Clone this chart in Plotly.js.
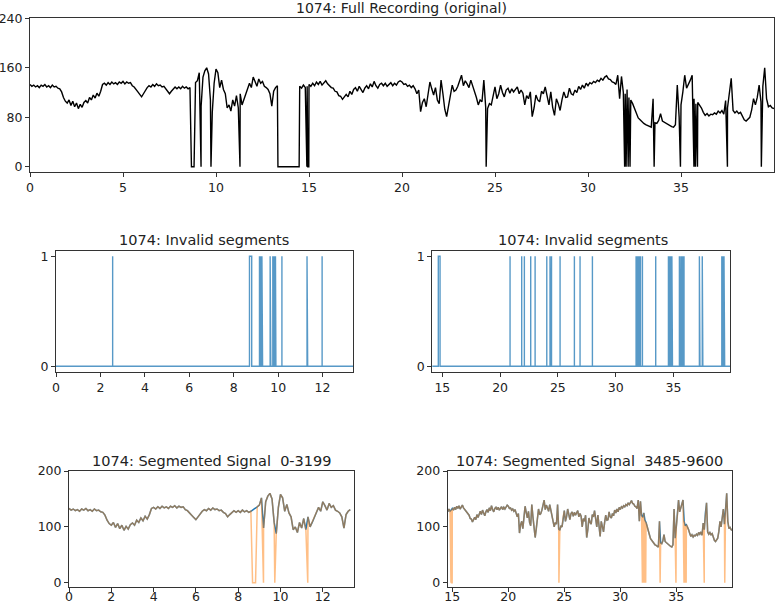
<!DOCTYPE html>
<html>
<head>
<meta charset="utf-8">
<script src="https://cdn.plot.ly/plotly-3.0.1.min.js"></script>
<style>html,body{margin:0;padding:0;background:#fff;}#chart{width:776px;height:604px;}</style>
</head>
<body>
<div id="chart"></div>
<script>
// ---------- DATA ----------
// Fetal heart rate (bpm), one reading every 0.1 minute, starting at minute 0
const fhrStartMin = 0;
const fhrStepMin = 0.1;
const fhr = [
  133,130,132,129,131,128,132,130,133,129,
  131,128,132,129,130,127,126,121,112,106,
  103,108,99,106,97,103,94,101,96,104,
  107,103,112,108,116,111,119,114,122,133,
  135,132,136,133,137,134,136,133,137,135,
  138,134,137,135,136,131,129,124,121,117,
  113,118,124,128,131,129,133,130,134,131,
  132,129,130,126,124,118,122,126,129,126,
  129,126,130,127,129,126,128,0,0,136,
  139,152,98,145,155,160,150,108,88,135,
  158,152,128,140,125,118,95,100,90,108,
  98,115,95,118,100,108,118,125,135,128,
  145,138,130,142,135,138,130,128,125,118,
  98,122,128,131,0,0,0,0,0,0,
  0,0,0,0,0,130,127,132,128,130,
  133,130,135,131,137,133,138,132,136,139,
  134,131,128,127,122,121,115,114,109,113,
  117,113,122,117,125,128,122,130,125,120,
  127,131,126,134,129,138,131,127,133,135,
  131,135,130,134,136,131,135,132,137,139,
  137,133,134,130,132,128,131,126,118,124,
  89,104,110,97,120,137,126,116,128,108,
  102,140,118,93,81,97,115,132,122,124,
  130,138,148,131,139,134,128,140,131,121,
  112,100,108,105,140,96,94,102,100,118,
  129,110,118,132,120,113,124,127,119,126,
  121,125,129,118,124,119,100,115,110,121,
  81,95,116,108,105,122,118,129,112,100,
  121,96,83,110,102,91,108,121,112,113,
  127,118,116,124,120,130,125,132,127,135,
  131,136,134,138,136,140,138,143,140,145,
  147,142,141,137,136,133,148,110,146,120,
  118,125,112,108,102,95,86,79,76,72,
  70,68,67,66,64,110,71,70,75,86,
  74,72,70,68,67,65,64,68,132,80,
  100,121,148,127,133,140,148,110,102,104,
  100,95,88,83,86,82,85,84,87,85,
  90,87,91,85,107,95,125,143,91,87,
  90,86,88,81,76,74,77,80,92,110,
  100,112,132,105,130,160,110,97,99,95,
  94
];
// Signal drop-outs (recorded value 0), start / end in minutes
const dropStart = [8.68, 9.19, 9.73, 11.29, 13.33, 14.88, 14.93, 14.99, 24.52, 31.97, 32.05, 32.16, 32.26, 33.55, 34.97, 35.69, 35.77, 35.88, 37.49, 39.32];
const dropEnd   = [8.82, 9.196, 9.736, 11.296, 14.47, 14.886, 14.936, 14.996, 24.526, 31.976, 32.056, 32.166, 32.266, 33.556, 34.976, 35.696, 35.776, 35.886, 37.496, 39.326];
// Invalid-segment flags (minutes)
const invalidLeftStart = [2.55, 8.71, 9.16, 9.18, 9.21, 9.24, 9.27, 9.30, 9.64, 9.67, 9.76, 9.79, 9.82, 9.85, 9.88, 9.90, 10.17, 11.30, 11.33, 11.98];
const invalidLeftEnd   = [2.55, 8.81, 9.16, 9.18, 9.21, 9.24, 9.27, 9.30, 9.64, 9.67, 9.76, 9.79, 9.82, 9.85, 9.88, 9.90, 10.17, 11.30, 11.33, 11.98];
const invalidRightStart = [14.65, 20.86, 21.87, 22.10, 22.65, 23.03, 24.04, 24.32, 24.38, 24.45, 25.19, 26.43, 26.92, 27.99,
  31.77, 31.80, 31.84, 31.90, 31.95, 32.00, 32.05, 32.10, 32.15, 32.32, 33.47,
  34.57, 34.62, 34.68, 34.75, 34.80, 34.87, 34.92, 35.52, 35.58, 35.65, 35.72, 35.80, 35.86, 35.92,
  37.25, 37.30, 37.50, 37.55, 39.19, 39.25, 39.30, 39.38, 39.44];
const invalidRightEnd = [14.80, 20.86, 21.87, 22.10, 22.65, 23.03, 24.04, 24.32, 24.38, 24.45, 25.19, 26.43, 26.92, 27.99,
  31.77, 31.80, 31.84, 31.90, 31.95, 32.00, 32.05, 32.10, 32.15, 32.32, 33.47,
  34.57, 34.62, 34.68, 34.75, 34.80, 34.87, 34.92, 35.52, 35.58, 35.65, 35.72, 35.80, 35.86, 35.92,
  37.25, 37.30, 37.50, 37.55, 39.19, 39.25, 39.30, 39.38, 39.44];
const segLeftEnd = 13.33;    // sample 3199
const segRightStart = 14.47; // sample 3485
const titles = {
  full: '1074: Full Recording (original)',
  invalid: '1074: Invalid segments',
  segLeft: '1074: Segmented Signal\u00a0 0-3199',
  segRight: '1074: Segmented Signal\u00a0 3485-9600'
};

// ---------- BUILD SERIES ----------
const baseT = fhr.map((v, i) => +(fhrStartMin + i * fhrStepMin).toFixed(3));
function inDrop(t) {
  for (let k = 0; k < dropStart.length; k++) if (t >= dropStart[k] && t <= dropEnd[k]) return true;
  return false;
}
let raw = [];
baseT.forEach((t, i) => { if (!inDrop(t)) raw.push([t, fhr[i]]); });
dropStart.forEach((s, k) => { raw.push([s, 0]); raw.push([dropEnd[k], 0]); });
raw.sort((a, b) => a[0] - b[0]);
const rawT = raw.map(p => p[0]), rawV = raw.map(p => p[1]);

function pulses(st, en) {
  const x = [], y = [];
  x.push(st[0] - 20); y.push(0);
  st.forEach((s, k) => { x.push(s, s, en[k], en[k]); y.push(0, 1, 1, 0); });
  x.push(60); y.push(0);
  return {x, y};
}
const pl = pulses(invalidLeftStart, invalidLeftEnd);
const pr = pulses(invalidRightStart, invalidRightEnd);

const cleanV = fhr.map(v => v === 0 ? null : v);
function pick(tArr, vArr, f) {
  const x = [], y = [];
  tArr.forEach((t, i) => { if (f(t)) { x.push(t); y.push(vArr[i]); } });
  return {x, y};
}
const bL = pick(baseT, cleanV, t => t < segLeftEnd);
const bR = pick(baseT, cleanV, t => t > segRightStart);
const oL = pick(rawT, rawV, t => t < segLeftEnd);
const oR = pick(rawT, rawV, t => t > segRightStart);

const BLUE = '#1f77b4', ORANGE = 'rgba(255,127,14,0.5)';
const traces = [
  {x: rawT, y: rawV, xaxis: 'x', yaxis: 'y', mode: 'lines', line: {color: '#000', width: 1.4}},
  {x: pl.x, y: pl.y, xaxis: 'x2', yaxis: 'y2', mode: 'lines', line: {color: BLUE, width: 1.4}, opacity: 0.75},
  {x: pr.x, y: pr.y, xaxis: 'x3', yaxis: 'y3', mode: 'lines', line: {color: BLUE, width: 1.4}, opacity: 0.75},
  {x: bL.x, y: bL.y, xaxis: 'x4', yaxis: 'y4', mode: 'lines', connectgaps: true, line: {color: BLUE, width: 1.5}},
  {x: oL.x, y: oL.y, xaxis: 'x4', yaxis: 'y4', mode: 'lines', line: {color: ORANGE, width: 1.5}},
  {x: bR.x, y: bR.y, xaxis: 'x5', yaxis: 'y5', mode: 'lines', connectgaps: true, line: {color: BLUE, width: 1.5}},
  {x: oR.x, y: oR.y, xaxis: 'x5', yaxis: 'y5', mode: 'lines', line: {color: ORANGE, width: 1.5}}
];

// ---------- LAYOUT ----------
const W = 776, H = 604;
const fx = p => p / W, fy = p => 1 - p / H;
function ax(extra) {
  return Object.assign({
    showline: true, mirror: true, linecolor: '#333', linewidth: 1,
    ticks: 'outside', ticklen: 4, tickwidth: 1, tickcolor: '#333',
    showgrid: false, zeroline: false, fixedrange: true,
    tickfont: {family: 'DejaVu Sans', size: 12.5, color: '#222'}
  }, extra);
}
const layout = {
  width: W, height: H, showlegend: false,
  paper_bgcolor: '#fff', plot_bgcolor: '#fff',
  margin: {l: 0, r: 0, t: 0, b: 0},
  font: {family: 'DejaVu Sans', color: '#222'},
  xaxis:  ax({domain: [fx(30), fx(774)], range: [0, 40], tickvals: [0,5,10,15,20,25,30,35], anchor: 'y'}),
  yaxis:  ax({domain: [fy(171.7), fy(18.3)], range: [-8, 240], tickvals: [0,80,160,240], anchor: 'x'}),
  xaxis2: ax({domain: [fx(56), fx(353)], range: [0, 13.37], tickvals: [0,2,4,6,8,10,12], anchor: 'y2'}),
  yaxis2: ax({domain: [fy(371.7), fy(250.7)], range: [-0.05, 1.05], tickvals: [0,1], anchor: 'x2'}),
  xaxis3: ax({domain: [fx(432.3), fx(730)], range: [14.13, 39.9], tickvals: [15,20,25,30,35], anchor: 'y3'}),
  yaxis3: ax({domain: [fy(371.7), fy(250.7)], range: [-0.05, 1.05], tickvals: [0,1], anchor: 'x3'}),
  xaxis4: ax({domain: [fx(69), fx(354.3)], range: [0, 13.49], tickvals: [0,2,4,6,8,10,12], anchor: 'y4', ticklabelstandoff: -6}),
  yaxis4: ax({domain: [fy(587.3), fy(471)], range: [-8, 200], tickvals: [0,100,200], anchor: 'x4'}),
  xaxis5: ax({domain: [fx(447.7), fx(732.3)], range: [14.59, 40], tickvals: [15,20,25,30,35], anchor: 'y5', ticklabelstandoff: -6}),
  yaxis5: ax({domain: [fy(587.3), fy(471)], range: [-8, 200], tickvals: [0,100,200], anchor: 'x5'}),
  annotations: [
    {text: titles.full, x: fx(401.5), y: fy(8), xref: 'paper', yref: 'paper', xanchor: 'center', yanchor: 'middle', showarrow: false, font: {family: 'DejaVu Sans', size: 14, color: '#222'}},
    {text: titles.invalid, x: fx(204), y: fy(240), xref: 'paper', yref: 'paper', xanchor: 'center', yanchor: 'middle', showarrow: false, font: {family: 'DejaVu Sans', size: 14.5, color: '#222'}},
    {text: titles.invalid, x: fx(582.5), y: fy(240), xref: 'paper', yref: 'paper', xanchor: 'center', yanchor: 'middle', showarrow: false, font: {family: 'DejaVu Sans', size: 14.5, color: '#222'}},
    {text: titles.segLeft, x: fx(211.8), y: fy(460.7), xref: 'paper', yref: 'paper', xanchor: 'center', yanchor: 'middle', showarrow: false, font: {family: 'DejaVu Sans', size: 14.5, color: '#222'}},
    {text: titles.segRight, x: fx(589.5), y: fy(460.7), xref: 'paper', yref: 'paper', xanchor: 'center', yanchor: 'middle', showarrow: false, font: {family: 'DejaVu Sans', size: 14.5, color: '#222'}}
  ]
};
Plotly.newPlot('chart', traces, layout, {staticPlot: true, displayModeBar: false});
</script>
</body>
</html>
